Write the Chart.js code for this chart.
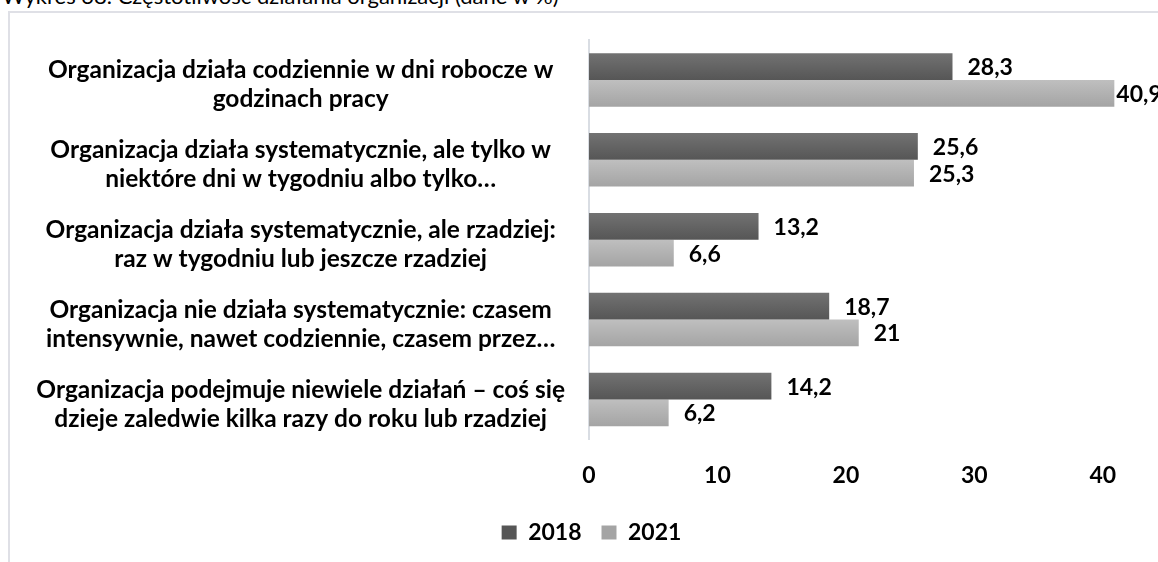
<!DOCTYPE html>
<html lang="pl">
<head>
<meta charset="utf-8">
<script src="https://cdn.jsdelivr.net/npm/chart.js@4"></script>
<style>
    html, body { margin: 0; padding: 0; background: #fff; overflow: hidden; }
    body { width: 1158px; height: 562px; position: relative; }
    .tytul {
        position: absolute; left: 2px; top: -15px;
        font: 22px/22px Lato, sans-serif; color: #000; white-space: nowrap;
    }
    .ramka {
        position: absolute; left: 8px; top: 11px; width: 1200px; height: 600px;
        border-left: 2px solid #dfe0e6; border-top: 2px solid #dfe0e6;
    }
    .wykres { position: absolute; left: 0; top: 0; width: 1175px; height: 562px; }
</style>
</head>
<body>
<div class="tytul">Wykres 38. Częstotliwość działania organizacji (dane w %)</div>
<div class="ramka"></div>
<div class="wykres"><canvas id="czestotliwosc"></canvas></div>
<script>
// kategorie (etykiety w dwóch wierszach)
const kategorie = [
    ['Organizacja działa codziennie w dni robocze w', 'godzinach pracy'],
    ['Organizacja działa systematycznie, ale tylko w', 'niektóre dni w tygodniu albo tylko…'],
    ['Organizacja działa systematycznie, ale rzadziej:', 'raz w tygodniu lub jeszcze rzadziej'],
    ['Organizacja nie działa systematycznie: czasem', 'intensywnie, nawet codziennie, czasem przez…'],
    ['Organizacja podejmuje niewiele działań – coś się', 'dzieje zaledwie kilka razy do roku lub rzadziej']
];
const lata = ['2018', '2021'];
const dane2018 = [28.3, 25.6, 13.2, 18.7, 14.2];
const dane2021 = [40.9, 25.3, 6.6, 21, 6.2];
const osX = [0, 10, 20, 30, 40];

const CAT_PCT = 0.67;
const FONT = 'Lato, sans-serif';

// kolory słupków: gradient pionowy [góra, dół]
const kolory = [['#727272', '#565656'], ['#bfbfbf', '#a4a4a4']];

function gradientSlupka(c) {
    const chart = c.chart;
    const para = kolory[c.datasetIndex];
    const skala = chart.scales.y;
    if (!skala || c.dataIndex === undefined || c.type !== 'data') {
        return para[1];
    }
    const krok = skala.height / kategorie.length;
    const grupa = krok * CAT_PCT;
    const grubosc = grupa / 2;
    const gora = skala.getPixelForValue(c.dataIndex) - grupa / 2 + c.datasetIndex * grubosc;
    const g = chart.ctx.createLinearGradient(0, gora, 0, gora + grubosc);
    g.addColorStop(0, para[0]);
    g.addColorStop(1, para[1]);
    return g;
}

// etykiety wartości przy końcach słupków
const etykietyWartosci = {
    id: 'etykietyWartosci',
    afterDatasetsDraw: function (chart) {
        const ctx = chart.ctx;
        ctx.save();
        ctx.font = 'bold 23px ' + FONT;
        ctx.fillStyle = '#000';
        ctx.textBaseline = 'middle';
        chart.data.datasets.forEach(function (ds, i) {
            chart.getDatasetMeta(i).data.forEach(function (el, j) {
                const tekst = String(ds.data[j]).replace('.', ',');
                const w = ctx.measureText(tekst).width;
                let x = el.x + 15;
                if (x + w > 1160) x = el.x + 2;
                ctx.fillText(tekst, x, el.y + 1);
            });
        });
        ctx.restore();
    }
};

new Chart(document.getElementById('czestotliwosc').getContext('2d'), {
    type: 'bar',
    data: {
        labels: kategorie,
        datasets: [
            { label: lata[0], data: dane2018, backgroundColor: gradientSlupka },
            { label: lata[1], data: dane2021, backgroundColor: gradientSlupka }
        ]
    },
    options: {
        indexAxis: 'y',
        responsive: true,
        maintainAspectRatio: false,
        animation: false,
        categoryPercentage: CAT_PCT,
        barPercentage: 1,
        layout: { padding: { top: 40, right: 8, left: 16, bottom: 8 } },
        scales: {
            y: {
                grid: { display: false, drawTicks: false },
                border: { display: true, color: '#d9dde3', width: 2 },
                afterFit: function (s) {
                    s.width = 573;
                    s.paddingTop = 0;
                    s.paddingBottom = 0;
                },
                ticks: {
                    color: '#000',
                    crossAlign: 'center',
                    padding: 24,
                    labelOffset: 5,
                    font: { family: FONT, size: 24.5, weight: 'bold', lineHeight: 1.18 }
                }
            },
            x: {
                min: 0,
                max: 45,
                grid: { display: false, drawTicks: false },
                border: { display: false },
                afterBuildTicks: function (s) { s.ticks = osX.map(v => ({ value: v })); },
                afterFit: function (s) { s.height -= 10; },
                ticks: {
                    color: '#000',
                    padding: 22,
                    font: { family: FONT, size: 23, weight: 'bold' }
                }
            }
        },
        plugins: {
            legend: {
                position: 'bottom',
                labels: {
                    color: '#000',
                    boxWidth: 15,
                    boxHeight: 14,
                    padding: 20,
                    font: { family: FONT, size: 23, weight: 'bold' },
                    generateLabels: function (chart) {
                        return chart.data.datasets.map(function (ds, i) {
                            return {
                                text: ds.label,
                                fillStyle: kolory[i][1],
                                strokeStyle: kolory[i][1],
                                lineWidth: 0,
                                datasetIndex: i
                            };
                        });
                    }
                }
            },
            tooltip: { enabled: false }
        }
    },
    plugins: [etykietyWartosci]
});
</script>
</body>
</html>
